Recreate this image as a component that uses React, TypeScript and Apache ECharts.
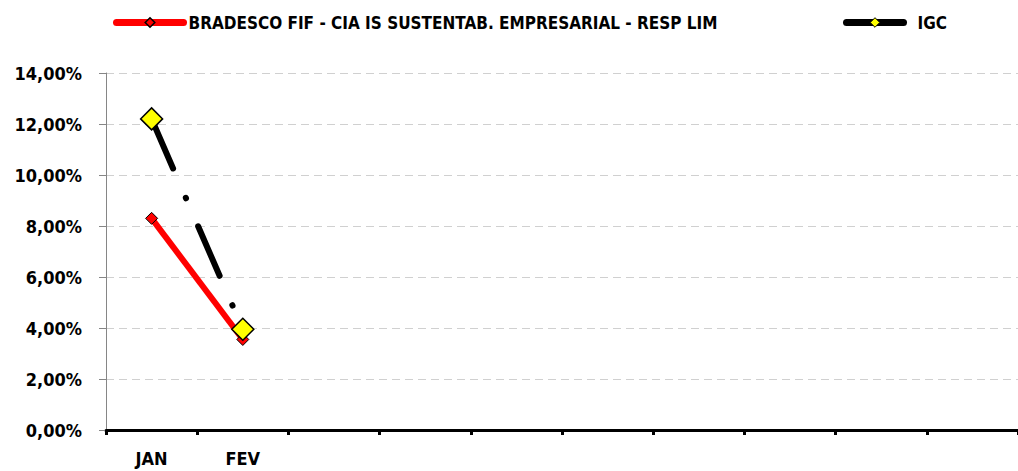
import React, { useEffect, useRef } from "react";
import * as echarts from "echarts";

const categories = ["JAN", "FEV", "", "", "", "", "", "", "", ""];
const bradesco = [8.3, 3.55, null, null, null, null, null, null, null, null];
const igc = [12.2, 3.95, null, null, null, null, null, null, null, null];
const seriesNames = ["BRADESCO FIF - CIA IS SUSTENTAB. EMPRESARIAL - RESP LIM", "IGC"];
const yMin = 0;
const yMax = 14;
const yInterval = 2;

const FONT = "'DejaVu Sans Condensed', 'Liberation Sans Narrow', Lato, sans-serif";

export default function App() {
  const ref = useRef<HTMLDivElement>(null);
  useEffect(() => {
    if (!ref.current) return;
    const chart = echarts.init(ref.current, undefined, { renderer: "svg" });
    chart.setOption({
      animation: false,
      backgroundColor: "#ffffff",
      legend: [
        {
          left: 113,
          top: 14,
          padding: 0,
          itemWidth: 67,
          itemHeight: 12,
          itemGap: 0,
          textStyle: { fontFamily: FONT, fontWeight: "bold", fontSize: 17, color: "#000", padding: [0, 0, 0, 0] },
          data: [
            {
              name: seriesNames[0],
              lineStyle: { type: "solid", width: 7, cap: "round", color: "#ff0000" },
              itemStyle: { color: "#ff0000", borderColor: "#000", borderWidth: 1.5 },
            },
          ],
        },
        {
          left: 843,
          top: 14,
          padding: 0,
          itemWidth: 57,
          itemHeight: 12,
          itemGap: 0,
          textStyle: { fontFamily: FONT, fontWeight: "bold", fontSize: 17, color: "#000", padding: [0, 0, 0, 9] },
          data: [
            {
              name: seriesNames[1],
              lineStyle: { type: "solid", width: 7, cap: "round", color: "#000" },
              itemStyle: { color: "#ffff00", borderColor: "#000", borderWidth: 1 },
            },
          ],
        },
      ],
      grid: { left: 106, top: 73, width: 920, height: 357, containLabel: false },
      xAxis: {
        type: "category",
        data: categories,
        boundaryGap: true,
        axisLine: { show: true, lineStyle: { color: "#000", width: 3 } },
        axisTick: { show: true, length: 5, lineStyle: { color: "#000", width: 3 } },
        axisLabel: { margin: 19, fontFamily: FONT, fontWeight: "bold", fontSize: 18, color: "#000" },
        splitLine: { show: false },
      },
      yAxis: {
        type: "value",
        min: yMin,
        max: yMax,
        interval: yInterval,
        axisLine: { show: true, lineStyle: { color: "#868686", width: 1 } },
        axisTick: { show: true, length: 7, lineStyle: { color: "#868686", width: 1 } },
        axisLabel: {
          margin: 24,
          fontFamily: FONT,
          fontWeight: "bold",
          fontSize: 18,
          color: "#000",
          formatter: (v: number) => v.toFixed(2).replace(".", ",") + "%",
        },
        splitLine: { show: true, lineStyle: { color: "#d0d0d0", type: [8, 5], width: 1 } },
      },
      series: [
        {
          name: seriesNames[0],
          type: "line",
          data: bradesco,
          symbol: "diamond",
          symbolSize: 12,
          lineStyle: { color: "#ff0000", width: 6 },
          itemStyle: { color: "#ff0000", borderColor: "#000", borderWidth: 1 },
          z: 2,
        },
        {
          name: seriesNames[1],
          type: "line",
          data: igc,
          symbol: "diamond",
          symbolSize: 22,
          lineStyle: { color: "#000", width: 6, type: [54, 32, 0.5, 30.5], cap: "round" },
          itemStyle: { color: "#ffff00", borderColor: "#000", borderWidth: 1.5 },
          z: 3,
        },
      ],
    });
    return () => chart.dispose();
  }, []);
  return <div ref={ref} style={{ position: "fixed", left: 0, top: 0, width: 1018, height: 471 }} />;
}
